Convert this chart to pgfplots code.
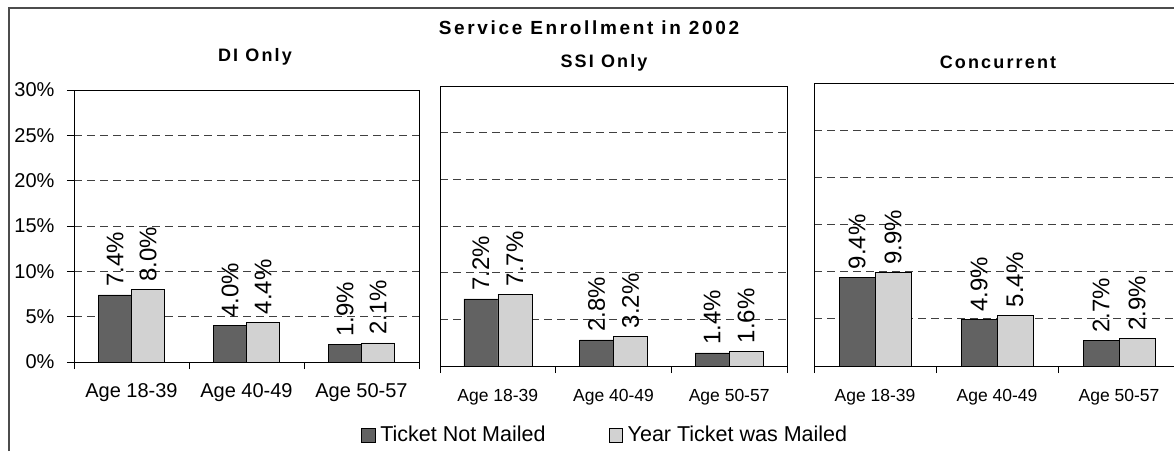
\documentclass[border=0pt]{standalone}
\usepackage{fontspec}
\setmainfont{Liberation Sans}
\newfontfamily\titlefont[LetterSpace=12]{Liberation Sans}
\newfontfamily\maintitlefont[LetterSpace=14]{Liberation Sans}
\usepackage{pgfplots}
\pgfplotsset{compat=1.18}
\definecolor{darkbar}{HTML}{626262}
\definecolor{lightbar}{HTML}{D2D2D2}
\pgfplotsset{
  panel/.style={
    scale only axis,
    ymin=0, ymax=30, xmin=0, xmax=3,
    ybar=0pt,
    axis line style={black, line width=0.8pt},
    ytick={0,5,...,30},
    ymajorgrids,
    major grid style={black!75, line width=0.7pt, dash pattern=on 8pt off 5pt},
    xtick={0,1,2,3}, xticklabels={},
    tick pos=left,
    tick align=outside, major tick length=7pt,
    tick style={black, line width=0.8pt},
    extra x ticks={0.5,1.5,2.5},
    extra x tick labels={Age 18-39,Age 40-49,Age 50-57},
    extra x tick style={major tick length=0pt, grid=none},
    /pgf/number format/assume math mode=true,
    nodes near coords={\pgfmathprintnumber[fixed,fixed zerofill,precision=1]{\pgfplotspointmeta}\%},
    every node near coord/.append style={rotate=90, anchor=west, inner xsep=8pt, inner ysep=0pt, outer sep=0pt, font=\fontsize{24}{26}\selectfont, black},
    legend image code/.code={\draw[#1] (0pt,-7pt) rectangle (13.5pt,6.5pt);},
  },
  dark/.style={fill=darkbar, draw=black, line width=0.6pt},
  light/.style={fill=lightbar, draw=black, line width=0.6pt},
}
\begin{document}
\begin{tikzpicture}
\path[use as bounding box] (0pt,0pt) rectangle (1174pt,451pt);
\clip (0pt,0pt) rectangle (1174pt,451pt);
\draw[line width=1.5pt, black!70] (9pt,0pt) -- (9pt,443pt) -- (1180pt,443pt);
\node[font=\maintitlefont\bfseries\fontsize{19}{22}\selectfont] at (589pt,423pt) {Service Enrollment in 2002};
\node[font=\titlefont\bfseries\fontsize{18}{22}\selectfont] at (255pt,394pt) {DI Only};
\node[font=\titlefont\bfseries\fontsize{18}{22}\selectfont] at (604pt,388pt) {SSI Only};
\node[font=\titlefont\bfseries\fontsize{18}{22}\selectfont] at (998pt,389pt) {Concurrent};

% Panel 1: DI Only
\begin{axis}[panel, anchor=south west, at={(74pt,89pt)}, width=345pt, height=272pt,
  bar width=33pt,
  yticklabel={\pgfmathprintnumber{\tick}\%},
  yticklabel style={font=\fontsize{20}{23}\selectfont, xshift=-9pt},
  xticklabel style={font=\fontsize{20}{24}\selectfont, yshift=-18pt},
]
\addplot[dark] coordinates {(0.5,7.4) (1.5,4.0) (2.5,1.9)};
\addplot[light] coordinates {(0.5,8.0) (1.5,4.4) (2.5,2.1)};
\end{axis}

% Panel 2: SSI Only
\begin{axis}[panel, anchor=south west, at={(440pt,85pt)}, width=347pt, height=280pt,
  bar width=34pt,
  yticklabels={}, ytick style={draw=none},
  xticklabel style={font=\fontsize{17.5}{21}\selectfont, yshift=-20pt},
  legend style={at={(0.476,-0.246)}, anchor=center, draw=none, fill=none,
    font=\fontsize{21.5}{25}\selectfont,
    /tikz/every odd column/.append style={column sep=3pt},
    /tikz/every even column/.append style={column sep=61pt}},
  legend columns=2,
]
\addplot[dark] coordinates {(0.5,7.2) (1.5,2.8) (2.5,1.4)};
\addplot[light] coordinates {(0.5,7.7) (1.5,3.2) (2.5,1.6)};
\legend{Ticket Not Mailed, Year Ticket was Mailed}
\end{axis}

% Panel 3: Concurrent
\begin{axis}[panel, anchor=south west, at={(814pt,85pt)}, width=366pt, height=283pt,
  bar width=36pt,
  yticklabels={}, ytick style={draw=none},
  xticklabel style={font=\fontsize{17.5}{21}\selectfont, yshift=-20pt},
]
\addplot[dark] coordinates {(0.5,9.4) (1.5,4.9) (2.5,2.7)};
\addplot[light] coordinates {(0.5,9.9) (1.5,5.4) (2.5,2.9)};
\end{axis}
\end{tikzpicture}
\end{document}
